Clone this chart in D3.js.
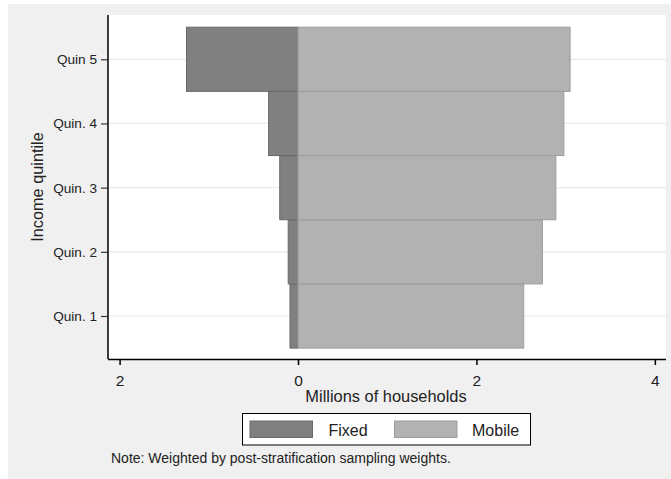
<!DOCTYPE html>
<html><head><meta charset="utf-8">
<script src="https://cdn.jsdelivr.net/npm/d3@7"></script>
<style>body{margin:0;background:#fff;font-family:"Liberation Sans",Arial,sans-serif}</style>
</head><body><svg id="c" width="671" height="479"></svg>
<script>
const quintiles = [1, 2, 3, 4, 5];
const quintileLabels = ["Quin. 1", "Quin. 2", "Quin. 3", "Quin. 4", "Quin 5"];
const fixedValues = [0.09, 0.11, 0.205, 0.33, 1.25];
const mobileValues = [2.53, 2.74, 2.89, 2.98, 3.05];
const xTicks = [-2, 0, 2, 4];
const seriesNames = ["Fixed", "Mobile"];
const seriesColors = ["#808080", "#b2b2b2"];
const seriesStrokes = ["#6a6a6a", "#9c9c9c"];

const svg = d3.select("#c");
svg.append("rect").attr("x", 8).attr("y", 4).attr("width", 663).attr("height", 475).attr("fill", "#f0f0f0");

const L = 108, R = 666, T = 15, B = 359;
svg.append("rect").attr("x", L).attr("y", T).attr("width", R - L).attr("height", B - T).attr("fill", "#fff");

const x = d3.scaleLinear().domain([-2.13, 4.125]).range([L, R]);
const y = d3.scaleLinear().domain([0.33, 5.69]).range([B, T]);

// gridlines
svg.append("g").selectAll("line").data(quintiles).join("line")
  .attr("x1", L).attr("x2", R).attr("y1", d => y(d)).attr("y2", d => y(d))
  .attr("stroke", "#eaeaea").attr("stroke-width", 1.2);

const rows = quintiles.map((q, i) => ({ q, fixed: fixedValues[i], mobile: mobileValues[i] }));
const g = svg.append("g");
g.selectAll("rect.fixed").data(rows).join("rect").attr("class", "fixed")
  .attr("x", d => x(-d.fixed)).attr("width", d => x(0) - x(-d.fixed))
  .attr("y", d => y(d.q + 0.5)).attr("height", d => y(d.q - 0.5) - y(d.q + 0.5))
  .attr("fill", seriesColors[0]).attr("stroke", seriesStrokes[0]).attr("stroke-width", 1);
g.selectAll("rect.mobile").data(rows).join("rect").attr("class", "mobile")
  .attr("x", x(0)).attr("width", d => x(d.mobile) - x(0))
  .attr("y", d => y(d.q + 0.5)).attr("height", d => y(d.q - 0.5) - y(d.q + 0.5))
  .attr("fill", seriesColors[1]).attr("stroke", seriesStrokes[1]).attr("stroke-width", 1);

const FF = "Liberation Sans, Arial, sans-serif";
// x axis
const xa = svg.append("g").attr("transform", `translate(0,${B})`)
  .call(d3.axisBottom(x).tickValues(xTicks).tickFormat(d => Math.abs(d)).tickSize(6).tickSizeOuter(0));
xa.select(".domain").attr("d", `M${L},0.5H${R}`).attr("stroke", "#000").attr("stroke-width", 1.5);
xa.selectAll(".tick line").attr("stroke", "#000").attr("stroke-width", 1.5);
xa.selectAll(".tick text").attr("font-size", 15.5).attr("font-family", FF).attr("fill", "#222").attr("dy", null).attr("y", 27);

// y axis
const ya = svg.append("g").attr("transform", `translate(${L},0)`)
  .call(d3.axisLeft(y).tickValues(quintiles).tickFormat((d, i) => quintileLabels[i]).tickSize(7).tickSizeOuter(0));
ya.select(".domain").attr("d", `M0,${T}V${B}`).attr("stroke", "#000").attr("stroke-width", 1.5);
ya.selectAll(".tick line").attr("stroke", "#333").attr("stroke-width", 1.2);
ya.selectAll(".tick text").attr("font-size", 13.6).attr("font-family", FF).attr("fill", "#222").attr("x", -11);

// axis titles
svg.append("text").attr("x", 386).attr("y", 401.5).attr("text-anchor", "middle")
  .attr("font-size", 16.4).attr("fill", "#222").text("Millions of households");
svg.append("text").attr("transform", "translate(43,187) rotate(-90)").attr("text-anchor", "middle")
  .attr("font-size", 16.3).attr("fill", "#222").text("Income quintile");

// legend
const lg = svg.append("g");
lg.append("rect").attr("x", 242.5).attr("y", 413.5).attr("width", 288).attr("height", 31.5)
  .attr("fill", "#fff").attr("stroke", "#000").attr("stroke-width", 1);
const legendX = [250, 394.5];
const legendTextX = [328.5, 472];
seriesNames.forEach((n, i) => {
  lg.append("rect").attr("x", legendX[i]).attr("y", 421).attr("width", 62.5).attr("height", 16.5)
    .attr("fill", seriesColors[i]).attr("stroke", seriesStrokes[i]).attr("stroke-width", 1);
  lg.append("text").attr("x", legendTextX[i]).attr("y", 436).attr("font-size", 16).attr("fill", "#222").text(n);
});

svg.append("text").attr("x", 111).attr("y", 463).attr("font-size", 14).attr("fill", "#222")
  .text("Note: Weighted by post-stratification sampling weights.");
</script></body></html>
